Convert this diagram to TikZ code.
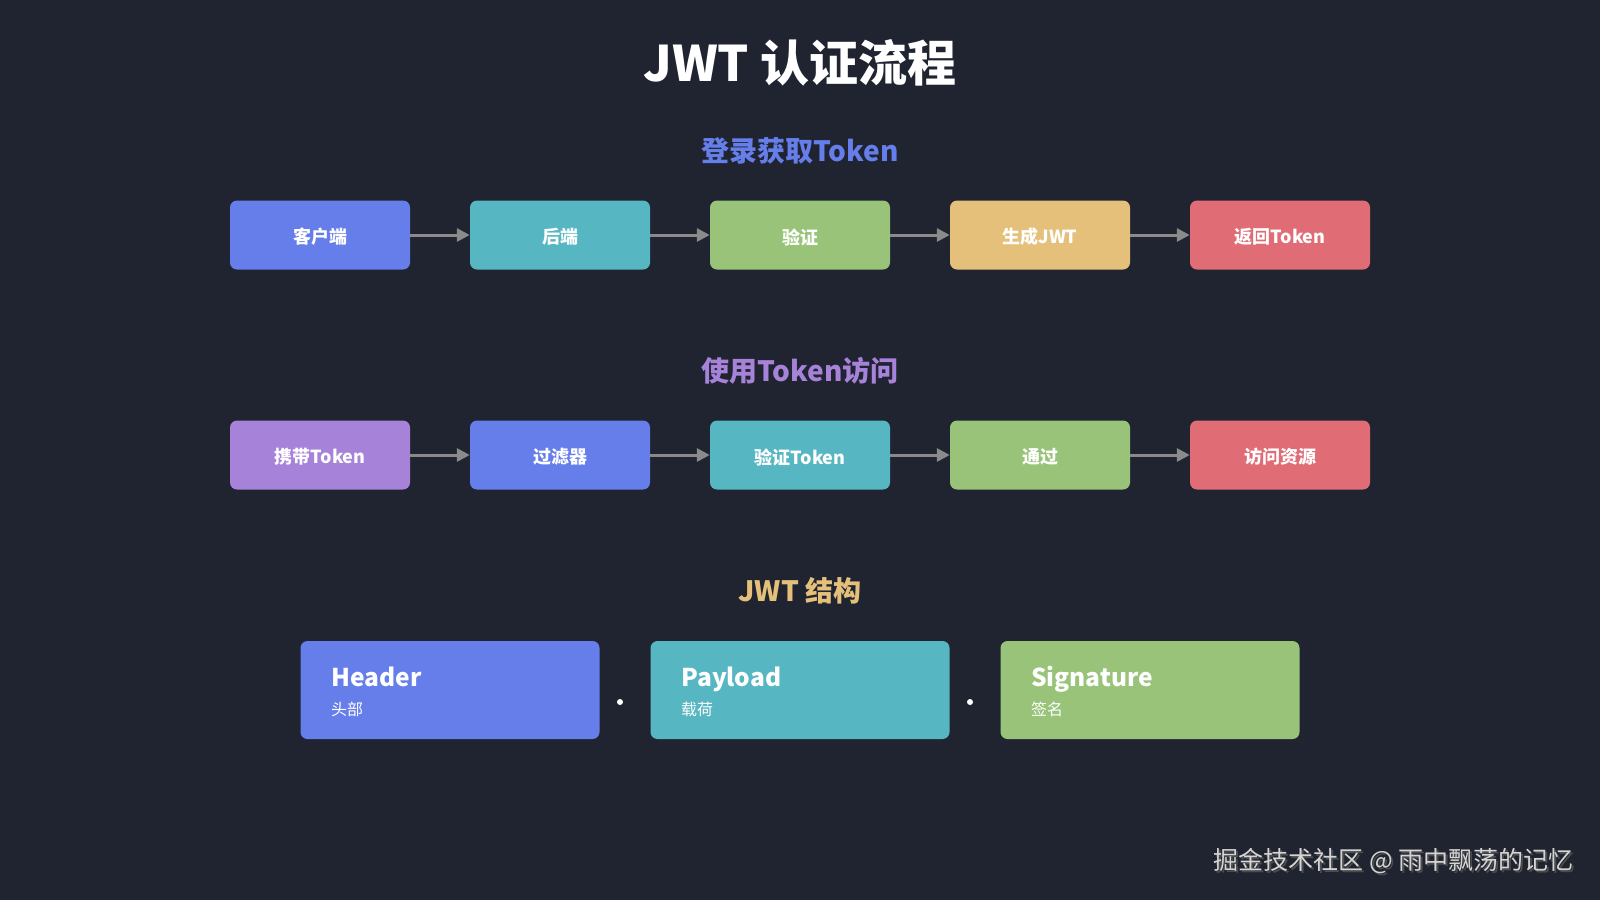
\documentclass[tikz,border=0pt]{standalone}
\usepackage{fontspec}
\setmainfont{Noto Sans CJK SC}
\usetikzlibrary{arrows.meta,positioning}
\definecolor{bg}{HTML}{1F2430}
\definecolor{cblue}{HTML}{667EEA}
\definecolor{cteal}{HTML}{56B6C2}
\definecolor{cgreen}{HTML}{98C379}
\definecolor{cyellow}{HTML}{E5C07B}
\definecolor{cred}{HTML}{E06C75}
\definecolor{cpurple}{HTML}{A682D8}
\definecolor{arrowgray}{HTML}{8A8A8A}
\definecolor{wm}{HTML}{D4D4D4}
\tikzset{
  flowbox/.style={rounded corners=7pt, minimum width=180pt, minimum height=69pt, inner sep=0pt,
    text=white, font=\fontsize{18}{20}\selectfont\bfseries},
  flowtext/.style={text=white, font=\fontsize{18}{20}\selectfont\bfseries, inner sep=0pt},
  bigbox/.style={rounded corners=7pt, minimum width=299pt, minimum height=98pt, inner sep=0pt},
  flowarrow/.style={draw=arrowgray, line width=3pt, -{Triangle[length=13pt,width=13pt]}},
  sectitle/.style={font=\fontsize{28}{32}\selectfont\bfseries},
  bigname/.style={anchor=base west, text=white, font=\fontsize{24.5}{30}\selectfont\bfseries, inner sep=0pt},
  subname/.style={anchor=base west, text=white, font=\fontsize{16}{18}\selectfont, inner sep=0pt},
  dotmark/.style={circle, fill=white, minimum size=6pt, inner sep=0pt}
}
\begin{document}
\begin{tikzpicture}[x=1pt,y=-1pt]
\fill[bg] (0,0) rectangle (1600,900);
\useasboundingbox (0,0) rectangle (1600,900);

\node[text=white, font=\fontsize{49}{56}\selectfont\bfseries] (title) at (800,63) {JWT 认证流程};

\node[sectitle, text=cblue] (s1) at (800,151) {登录获取Token};
\node[flowbox, fill=cblue] (a1) at (320,235) {};
\node[flowbox, fill=cteal] (a2) at (560,235) {};
\node[flowbox, fill=cgreen] (a3) at (800,235) {};
\node[flowbox, fill=cyellow] (a4) at (1040,235) {};
\node[flowbox, fill=cred] (a5) at (1280,235) {};
\node[flowtext] (a1t) at (320,237) {客户端};
\node[flowtext] (a2t) at (560,237) {后端};
\node[flowtext] (a3t) at (800,237) {验证};
\node[flowtext] (a4t) at (1040,237) {生成JWT};
\node[flowtext] (a5t) at (1280,237) {返回Token};
\draw[flowarrow] (a1) -- (a2);
\draw[flowarrow] (a2) -- (a3);
\draw[flowarrow] (a3) -- (a4);
\draw[flowarrow] (a4) -- (a5);

\node[sectitle, text=cpurple] (s2) at (800,371) {使用Token访问};
\node[flowbox, fill=cpurple] (b1) at (320,455) {};
\node[flowbox, fill=cblue] (b2) at (560,455) {};
\node[flowbox, fill=cteal] (b3) at (800,455) {};
\node[flowbox, fill=cgreen] (b4) at (1040,455) {};
\node[flowbox, fill=cred] (b5) at (1280,455) {};
\node[flowtext] (b1t) at (320,457) {携带Token};
\node[flowtext] (b2t) at (560,457) {过滤器};
\node[flowtext] (b3t) at (800,457) {验证Token};
\node[flowtext] (b4t) at (1040,457) {通过};
\node[flowtext] (b5t) at (1280,457) {访问资源};
\draw[flowarrow] (b1) -- (b2);
\draw[flowarrow] (b2) -- (b3);
\draw[flowarrow] (b3) -- (b4);
\draw[flowarrow] (b4) -- (b5);

\node[sectitle, text=cyellow] (s3) at (800,591) {JWT 结构};
\node[bigbox, fill=cblue] (c1) at (450,690) {};
\node[bigbox, fill=cteal] (c2) at (800,690) {};
\node[bigbox, fill=cgreen] (c3) at (1150,690) {};
\node[bigname] (c1t) at (331,686) {Header};
\node[subname] (c1s) at (331,715) {头部};
\node[bigname] (c2t) at (681,686) {Payload};
\node[subname] (c2s) at (681,715) {载荷};
\node[bigname] (c3t) at (1031,686) {Signature};
\node[subname] (c3s) at (1031,715) {签名};
\node[dotmark] (d1) at (620,702) {};
\node[dotmark] (d2) at (970,702) {};

\node[anchor=east, text=black!70, font=\fontsize{25}{28}\selectfont, inner sep=0pt] (wms) at (1576,863) {掘金技术社区 @ 雨中飘荡的记忆};
\node[anchor=east, text=wm, font=\fontsize{25}{28}\selectfont, inner sep=0pt] (wmt) at (1574,861) {掘金技术社区 @ 雨中飘荡的记忆};
\end{tikzpicture}
\end{document}
